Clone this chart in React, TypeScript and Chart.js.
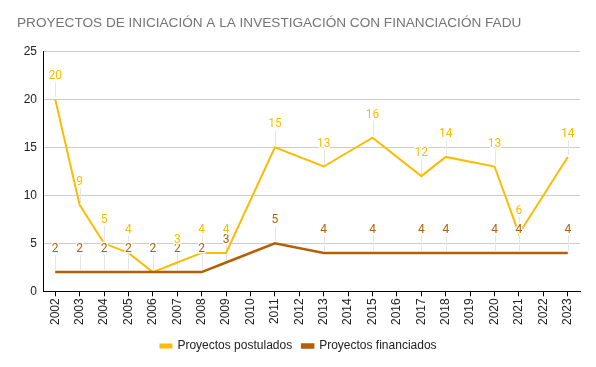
import React, { useEffect, useRef } from "react";
import { Chart, registerables } from "chart.js";

Chart.register(...registerables);

const TITLE = "PROYECTOS DE INICIACIÓN A LA INVESTIGACIÓN CON FINANCIACIÓN FADU";
const years = ["2002","2003","2004","2005","2006","2007","2008","2009","2010","2011","2012","2013","2014","2015","2016","2017","2018","2019","2020","2021","2022","2023"];
const postulados: (number | null)[] = [20, 9, 5, 4, 2, 3, 4, 4, null, 15, null, 13, null, 16, null, 12, 14, null, 13, 6, null, 14];
const financiados: (number | null)[] = [2, 2, 2, 2, 2, 2, 2, 3, null, 5, null, 4, null, 4, null, 4, 4, null, 4, 4, null, 4];
const yTicks = [0, 5, 10, 15, 20, 25];

const YELLOW = "#fbbc04";
const BROWN = "#b45f06";

const labelPlugin = {
  id: "annot",
  beforeDatasetsDraw(chart: any) {
    const ctx = chart.ctx;
    ctx.save();
    ctx.strokeStyle = "#e6e6e6";
    ctx.lineWidth = 1;
    chart.data.datasets.forEach((ds: any, di: number) => {
      const meta = chart.getDatasetMeta(di);
      meta.data.forEach((pt: any, i: number) => {
        const v = ds.data[i];
        if (v === null || v === undefined) return;
        if (di === 0 && financiados[i] === v) return;
        const x = Math.round(pt.x) + 0.5;
        ctx.beginPath();
        ctx.moveTo(x, pt.y - 2);
        ctx.lineTo(x, pt.y - 17);
        ctx.stroke();
      });
    });
    ctx.restore();
  },
  afterDatasetsDraw(chart: any) {
    const ctx = chart.ctx;
    ctx.save();
    ctx.font = "12px Roboto";
    ctx.textAlign = "center";
    ctx.textBaseline = "middle";
    ctx.lineJoin = "round";
    [1, 0].forEach((di) => {
      const ds = chart.data.datasets[di];
      const meta = chart.getDatasetMeta(di);
      meta.data.forEach((pt: any, i: number) => {
        const v = ds.data[i];
        if (v === null || v === undefined) return;
        if (di === 0 && financiados[i] === v) return;
        const y = pt.y - 23;
        ctx.strokeStyle = "rgba(255,255,255,0.9)";
        ctx.lineWidth = 3;
        ctx.strokeText(String(v), pt.x, y);
        ctx.fillStyle = ds.borderColor;
        ctx.fillText(String(v), pt.x, y);
      });
    });
    ctx.restore();
  },
};

export default function App() {
  const ref = useRef<HTMLCanvasElement>(null);
  useEffect(() => {
    document.body.style.margin = "0";
    const chart = new Chart(ref.current!, {
      type: "line",
      data: {
        labels: years,
        datasets: [
          {
            label: "Proyectos postulados",
            data: postulados,
            borderColor: YELLOW,
            backgroundColor: YELLOW,
            borderWidth: 2,
            pointRadius: 0,
            spanGaps: true,
            tension: 0,
            order: 1,
          },
          {
            label: "Proyectos financiados",
            data: financiados,
            borderColor: BROWN,
            backgroundColor: BROWN,
            borderWidth: 2.5,
            pointRadius: 0,
            spanGaps: true,
            tension: 0,
            order: 0,
          },
        ],
      },
      options: {
        animation: false,
        responsive: false,
        layout: { padding: { left: 17, right: 16, top: 4, bottom: 5 } },
        plugins: {
          title: {
            display: true,
            text: TITLE,
            align: "start",
            color: "#757575",
            font: { family: "Arial, 'Liberation Sans'", size: 13.6, weight: "normal" },
            padding: { top: 11, bottom: 20 },
          },
          legend: {
            position: "bottom",
            labels: {
              boxWidth: 11,
              boxHeight: 3,
              color: "#222",
              font: { family: "Arial, 'Liberation Sans'", size: 12 },
              padding: 10,
              sort: (a: any, b: any) => a.datasetIndex - b.datasetIndex,
            },
          },
          tooltip: { enabled: false },
        },
        scales: {
          x: {
            offset: true,
            afterFit: (s: any) => {
              s.height = s.height + 3;
            },
            grid: { drawOnChartArea: false, drawTicks: true, tickLength: 5, color: "#000" },
            border: { color: "#000" },
            ticks: {
              color: "#222",
              font: { family: "Arial, 'Liberation Sans'", size: 12 },
              minRotation: 90,
              maxRotation: 90,
              autoSkip: false,
              padding: 2,
            },
          },
          y: {
            min: 0,
            max: 25,
            afterBuildTicks: (s: any) => {
              s.ticks = yTicks.map((v) => ({ value: v }));
            },
            afterFit: (s: any) => {
              s.width = 26;
            },
            grid: { color: "#cccccc", drawTicks: false },
            border: { color: "#000" },
            ticks: {
              color: "#222",
              font: { family: "Arial, 'Liberation Sans'", size: 12 },
              padding: 6,
            },
          },
        },
      },
      plugins: [labelPlugin],
    });
    return () => chart.destroy();
  }, []);
  return (
    <div style={{ width: 596, height: 367 }}>
      <canvas ref={ref} width={596} height={367} style={{ width: 596, height: 367, display: "block" }} />
    </div>
  );
}
